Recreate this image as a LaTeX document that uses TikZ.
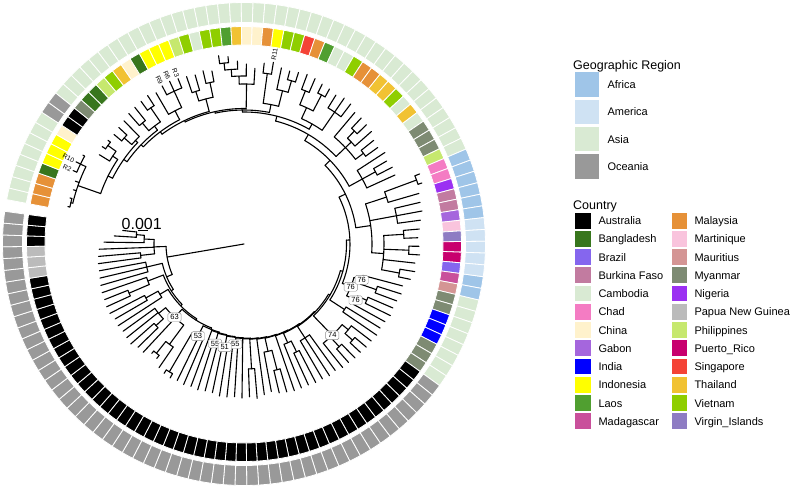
\documentclass[tikz,border=0pt]{standalone}
\usepackage{fontspec}
\setmainfont{Liberation Sans}
\definecolor{cAU}{HTML}{000000}
\definecolor{cBD}{HTML}{38761D}
\definecolor{cBR}{HTML}{8566EE}
\definecolor{cBF}{HTML}{C27BA0}
\definecolor{cKH}{HTML}{D9EAD3}
\definecolor{cTD}{HTML}{F47CC3}
\definecolor{cCN}{HTML}{FFF2CC}
\definecolor{cGA}{HTML}{A566DD}
\definecolor{cIN}{HTML}{0000FF}
\definecolor{cID}{HTML}{FFFF00}
\definecolor{cLA}{HTML}{509F30}
\definecolor{cMG}{HTML}{C9509B}
\definecolor{cMY}{HTML}{E69138}
\definecolor{cMQ}{HTML}{F9C4DD}
\definecolor{cMU}{HTML}{D49594}
\definecolor{cMM}{HTML}{7E8B73}
\definecolor{cNG}{HTML}{9B30F2}
\definecolor{cPG}{HTML}{BBBBBB}
\definecolor{cPH}{HTML}{C6E86E}
\definecolor{cPR}{HTML}{C8006E}
\definecolor{cSG}{HTML}{F44336}
\definecolor{cTH}{HTML}{F1C232}
\definecolor{cVN}{HTML}{8FCE00}
\definecolor{cVI}{HTML}{8E7CC3}
\definecolor{rAF}{HTML}{9FC5E8}
\definecolor{rAM}{HTML}{CFE2F3}
\definecolor{rAS}{HTML}{D9EAD3}
\definecolor{rOC}{HTML}{999999}
\tikzset{
  tr/.style={line width=1.1pt, line cap=round, line join=round},
  bs/.style={draw=black!45, line width=0.4pt, fill=white, rounded corners=1.5pt, inner xsep=2.4pt, inner ysep=1.8pt, font=\fontsize{7.5}{8.5}\selectfont},
  tl/.style={font=\fontsize{6.6}{7.5}\selectfont, inner sep=0pt},
  lt/.style={font=\fontsize{12.5}{14}\selectfont, anchor=base west, inner sep=0pt},
  lx/.style={font=\fontsize{11}{13}\selectfont, anchor=base west, inner sep=0pt}
}
\newcommand\TRad[3]{\draw[tr] ({168-(#1-1)*2.8125}:#2pt) -- ({168-(#1-1)*2.8125}:#3pt);}
\newcommand\TArc[3]{\draw[tr] ({168-(#2-1)*2.8125}:#1pt) arc[start angle={168-(#2-1)*2.8125}, end angle={168-(#3-1)*2.8125}, radius=#1pt];}
\newcommand\seg[4]{\pgfmathsetmacro\sa{168-(#1-1)*2.8125-1.40625}\pgfmathsetmacro\sb{168-(#1-1)*2.8125+1.40625}%
  \filldraw[fill=#2, draw=white, line width=0.8pt] (\sa:#3pt) arc[start angle=\sa, end angle=\sb, radius=#3pt] -- (\sb:#4pt) arc[start angle=\sb, end angle=\sa, radius=#4pt] -- cycle;}
\begin{document}
\begin{tikzpicture}[x=1pt,y=1pt]
\useasboundingbox (-244,-244) rectangle (548,244);
% ---------- country ring ----------
\foreach \cc [count=\k] in {MY,MY,MY,BD,ID,ID,ID,CN,AU,AU,MM,BD,BD,PH,VN,TH,CN,BD,ID,ID,ID,PH,VN,KH,VN,VN,LA,TH,CN,CN,MY,ID,VN,VN,SG,MY,LA,KH,KH,VN,MY,MY,TH,TH,VN,KH,TH,KH,MM,MM,MM,PH,TD,TD,NG,BF,BF,GA,MQ,VI,PR,PR,BR,MG,MU,MM,MM,IN,IN,IN,MM,MM,MM}
  {\seg{\k}{c\cc}{199}{217.5}}
\foreach \k in {74,...,121} {\seg{\k}{cAU}{199}{217.5}}
\foreach \k in {125,126,127} {\seg{\k}{cAU}{199}{217.5}}
\foreach \k in {122,123,124} {\seg{\k}{cPG}{199}{217.5}}
% ---------- region ring ----------
\foreach \k in {1,...,8} {\seg{\k}{rAS}{221.5}{241.5}}
\foreach \k in {11,...,52} {\seg{\k}{rAS}{221.5}{241.5}}
\foreach \k in {66,...,73} {\seg{\k}{rAS}{221.5}{241.5}}
\foreach \k in {9,10} {\seg{\k}{rOC}{221.5}{241.5}}
\foreach \k in {74,...,127} {\seg{\k}{rOC}{221.5}{241.5}}
\foreach \k in {53,...,58} {\seg{\k}{rAF}{221.5}{241.5}}
\foreach \k in {64,65} {\seg{\k}{rAF}{221.5}{241.5}}
\foreach \k in {59,...,63} {\seg{\k}{rAM}{221.5}{241.5}}
% ---------- tree ----------
\TRad{121.3}{0}{78}
\TArc{78}{116.55}{124.08}
% sA
\TRad{124.08}{78}{90} \TArc{90}{122.5}{125.75}
\TRad{122.5}{90}{104} \TArc{104}{122}{123} \TRad{122}{104}{147} \TRad{123}{104}{146}
\TRad{124}{90}{145}
\TRad{125.75}{90}{100} \TArc{100}{125}{126.5} \TRad{125}{100}{140}
\TRad{126.5}{100}{108} \TArc{108}{126}{127} \TRad{126}{108}{130} \TRad{127}{108}{122}
% L1
\TRad{116.55}{78}{84} \TArc{84}{113.1}{120}
\TRad{120}{84}{100} \TArc{100}{119}{121} \TRad{119}{100}{149} \TRad{120}{100}{148} \TRad{121}{100}{147}
% L2
\TRad{113.1}{84}{86.5} \TArc{86.5}{108.98}{117.25}
\TRad{117.25}{86.5}{103} \TArc{103}{116.5}{118} \TRad{118}{103}{150} \TRad{116.5}{103}{125} \TArc{125}{116}{117} \TRad{116}{125}{151} \TRad{117}{125}{150}
% L3
\TRad{108.98}{86.5}{88.5} \TArc{88.5}{104.2}{113.75}
\TRad{113.75}{88.5}{98} \TArc{98}{113}{114.5} \TRad{113}{98}{150} \TRad{114.5}{98}{112} \TArc{112}{114}{115} \TRad{114}{112}{149} \TRad{115}{112}{151}
% L4 with clade 63
\TRad{104.2}{88.5}{90} \TArc{90}{100.24}{108.19}
\TRad{108.19}{90}{101} \TArc{101}{105.75}{110.83}
\TRad{110.83}{101}{110} \TArc{110}{109.5}{112} \TRad{112}{110}{149} \TRad{111}{110}{150} \TRad{109.5}{110}{120} \TArc{120}{109}{110} \TRad{109}{120}{148} \TRad{110}{120}{151}
\TRad{108}{101}{148}
\TRad{105.75}{101}{125} \TArc{125}{105}{106.5} \TRad{105}{125}{150} \TRad{106.5}{125}{140} \TArc{140}{106}{107} \TRad{106}{140}{144} \TRad{107}{140}{143}
% L5 with clade 53
\TRad{100.24}{90}{91.5} \TArc{91.5}{98.3}{102.17}
\TRad{102.17}{91.5}{103} \TArc{103}{101}{103.5} \TRad{102}{103}{152} \TRad{101}{103}{153} \TRad{103.5}{103}{148} \TArc{148}{103}{104} \TRad{103}{148}{153} \TRad{104}{148}{152}
% L6
\TRad{98.3}{91.5}{92.3} \TArc{92.3}{96.6}{100} \TRad{100}{92.3}{152}
% L7
\TRad{96.6}{92.3}{93} \TArc{93}{94.71}{98.5}
\TRad{98.5}{93}{103.6} \TArc{103.6}{98}{99} \TRad{98}{103.6}{152} \TRad{99}{103.6}{153}
% L8
\TRad{94.71}{93}{93.7} \TArc{93.7}{92.92}{96.5}
\TRad{96.5}{93.7}{105} \TArc{105}{96}{97} \TRad{96}{105}{154} \TRad{97}{105}{152}
% L9
\TRad{92.92}{93.7}{94.3} \TArc{94.3}{91.34}{94.5}
\TRad{94.5}{94.3}{100.5} \TArc{100.5}{94}{95} \TRad{94}{100.5}{153} \TRad{95}{100.5}{154}
% L10
\TRad{91.34}{94.3}{94.9} \TArc{94.9}{89.68}{93} \TRad{93}{94.9}{154}
% L11
\TRad{89.68}{94.9}{95.4} \TArc{95.4}{87.85}{91.5}
\TRad{91.5}{95.4}{125} \TArc{125}{91}{92} \TRad{91}{125}{155} \TRad{92}{125}{153}
% L12
\TRad{87.85}{95.4}{96} \TArc{96}{85.7}{90} \TRad{90}{96}{152}
% L13
\TRad{85.7}{96}{96.5} \TArc{96.5}{83.15}{88.25}
\TRad{88.25}{96.5}{110} \TArc{110}{87.5}{89} \TRad{89}{110}{150} \TRad{87.5}{110}{130} \TArc{130}{87}{88} \TRad{87}{130}{154} \TRad{88}{130}{153}
% L14
\TRad{83.15}{96.5}{97} \TArc{97}{80.29}{86} \TRad{86}{97}{155}
% L15
\TRad{80.29}{97}{97.6} \TArc{97.6}{76.33}{84.25}
\TRad{84.25}{97.6}{108} \TArc{108}{83.5}{85} \TRad{85}{108}{155} \TRad{83.5}{108}{120} \TArc{120}{83}{84} \TRad{83}{120}{156} \TRad{84}{120}{155}
% L16
\TRad{76.33}{97.6}{98.3} \TArc{98.3}{71.66}{81}
\TRad{81}{98.3}{112} \TArc{112}{80}{82} \TRad{80}{112}{156} \TRad{81}{112}{157} \TRad{82}{112}{156}
% L17 with clade 74
\TRad{71.66}{98.3}{100} \TArc{100}{66.23}{77.08}
\TRad{77.08}{100}{127} \TArc{127}{74.75}{79} \TRad{79}{127}{158}
\TRad{77.5}{127}{140} \TArc{140}{77}{78} \TRad{77}{140}{159} \TRad{78}{140}{158}
\TRad{74.75}{127}{135} \TArc{135}{74}{75.5} \TRad{74}{135}{160} \TRad{75.5}{135}{145} \TArc{145}{75}{76} \TRad{75}{145}{160} \TRad{76}{145}{159}
% L18
\TRad{66.23}{100}{102.5} \TArc{102.5}{59.96}{72.5}
\TRad{72.5}{102.5}{120} \TArc{120}{72}{73} \TRad{72}{120}{160} \TRad{73}{120}{161}
% L19 with 76 clades
\TRad{59.96}{102.5}{106} \TArc{106}{51.41}{68.5}
\TRad{68.5}{106}{115} \TArc{115}{66.75}{70.25}
\TRad{66.75}{115}{123} \TArc{123}{66}{67.5} \TRad{66}{123}{164} \TRad{67.5}{123}{140} \TArc{140}{67}{68} \TRad{67}{140}{165} \TRad{68}{140}{163}
\TRad{70.25}{115}{125} \TArc{125}{69.5}{71} \TRad{71}{125}{161} \TRad{69.5}{125}{135} \TArc{135}{69}{70} \TRad{69}{135}{162} \TRad{70}{135}{163}
% L20 Africa / America
\TRad{51.41}{106}{113} \TArc{113}{45.03}{57.79}
\TRad{57.79}{113}{128} \TArc{128}{54.25}{62.125}
\TRad{54.25}{128}{150} \TArc{150}{53.5}{55} \TRad{55}{150}{182} \TRad{53.5}{150}{184} \TArc{184}{53}{54} \TRad{53}{184}{189} \TRad{54}{184}{188}
\TRad{57}{128}{155} \TArc{155}{56}{58} \TRad{56}{155}{181} \TRad{57}{155}{181} \TRad{58}{155}{178}
\TRad{62.125}{128}{140} \TArc{140}{59.5}{64.5}
\TRad{59.5}{140}{160} \TArc{160}{59}{60} \TRad{59}{160}{176} \TRad{60}{160}{174}
\TRad{61.5}{140}{165} \TArc{165}{61}{62} \TRad{61}{165}{175} \TRad{62}{165}{176}
\TRad{63}{140}{172}
\TRad{64.5}{140}{158} \TArc{158}{64}{65} \TRad{64}{158}{173} \TRad{65}{158}{170}
% L21
\TRad{45.03}{113}{120} \TArc{120}{39.56}{50.5}
\TRad{50.5}{120}{135} \TArc{135}{49}{52} \TRad{52}{135}{166} \TRad{49}{135}{168} \TRad{50.5}{135}{150} \TArc{150}{50}{51} \TRad{50}{150}{165} \TRad{51}{150}{167}
% L22
\TRad{39.56}{120}{127} \TArc{127}{33.86}{45.25}
\TRad{45.25}{127}{140} \TArc{140}{43}{47.5} \TRad{43}{140}{172} \TRad{47.5}{140}{150} \TArc{150}{47}{48} \TRad{47}{150}{166} \TRad{48}{150}{165}
\TRad{45.25}{140}{148} \TArc{148}{44.5}{46} \TRad{46}{148}{170} \TRad{44.5}{148}{158} \TArc{158}{44}{45} \TRad{44}{158}{172} \TRad{45}{158}{171}
% L23
\TRad{33.86}{127}{132} \TArc{132}{28.48}{39.25}
\TRad{39.25}{132}{138} \TArc{138}{37.5}{41}
\TRad{41}{138}{160} \TArc{160}{40}{42} \TRad{40}{160}{175} \TRad{41}{160}{177} \TRad{42}{160}{176}
\TRad{37.5}{138}{150} \TArc{150}{36.5}{38.5} \TRad{36.5}{150}{165} \TArc{165}{36}{37} \TRad{36}{165}{181} \TRad{37}{165}{180}
\TRad{38.5}{150}{168} \TArc{168}{38}{39} \TRad{38}{168}{178} \TRad{39}{168}{177}
% L24 (R11)
\TRad{28.48}{132}{134} \TArc{134}{24.33}{32.625}
\TRad{32.625}{134}{142} \TArc{142}{31.5}{33.75}
\TRad{31.5}{142}{172} \TArc{172}{31}{32} \TRad{31}{172}{182} \TRad{32}{172}{184}
\TRad{33.75}{142}{158} \TArc{158}{33}{34.5} \TRad{33}{158}{180} \TRad{34.5}{158}{170} \TArc{170}{34}{35} \TRad{34}{170}{179} \TRad{35}{170}{180}
% L25 staircase
\TRad{24.33}{134}{135.5} \TArc{135.5}{19.59}{29.06}
\TRad{29.06}{135.5}{160} \TArc{160}{28.125}{30} \TRad{30}{160}{176}
\TRad{28.125}{160}{168} \TArc{168}{27.25}{29} \TRad{29}{168}{180}
\TRad{27.25}{168}{175} \TArc{175}{26.5}{28} \TRad{28}{175}{183}
\TRad{26.5}{175}{182} \TArc{182}{26}{27} \TRad{26}{182}{190} \TRad{27}{182}{188}
% L26
\TRad{19.59}{135.5}{137} \TArc{137}{15.68}{23.5}
\TRad{23.5}{137}{150} \TArc{150}{22.5}{24.5} \TRad{24.5}{150}{165} \TArc{165}{24}{25} \TRad{24}{165}{178} \TRad{25}{165}{176}
\TRad{22.5}{150}{160} \TArc{160}{22}{23} \TRad{22}{160}{177} \TRad{23}{160}{176}
% L27 (R9 R6 R3)
\TRad{15.68}{137}{140} \TArc{140}{12.36}{19}
\TRad{19}{140}{150} \TArc{150}{18}{20} \TRad{18}{150}{175} \TRad{20}{150}{168} \TArc{168}{19}{21} \TRad{19}{168}{178} \TRad{20}{168}{179} \TRad{21}{168}{178}
% L28
\TRad{12.36}{140}{143} \TArc{143}{9.22}{15.5}
\TRad{15.5}{143}{148} \TArc{148}{14.5}{16.5} \TRad{16.5}{148}{165} \TArc{165}{16}{17} \TRad{16}{165}{176} \TRad{17}{165}{177}
\TRad{14.5}{148}{158} \TArc{158}{14}{15} \TRad{14}{158}{174} \TRad{15}{158}{175}
% L29
\TRad{9.22}{143}{147} \TArc{147}{6.19}{12.25}
\TRad{12.25}{147}{150} \TArc{150}{11.5}{13} \TRad{13}{150}{172} \TRad{11.5}{150}{160} \TArc{160}{11}{12} \TRad{11}{160}{170} \TRad{12}{160}{171}
% L30
\TRad{6.19}{147}{152} \TArc{152}{3.625}{8.75}
\TRad{8.75}{152}{158} \TArc{158}{8}{9.5} \TRad{8}{158}{170} \TRad{9.5}{158}{168} \TArc{168}{9}{10} \TRad{9}{168}{172} \TRad{10}{168}{171}
% L end
\TRad{3.625}{152}{176} \TArc{176}{1.5}{6}
\TRad{1.5}{176}{178} \TArc{178}{1}{2} \TRad{1}{178}{180} \TRad{2}{178}{180}
\TRad{3}{176}{179} \TRad{4}{176}{180}
\TRad{6}{176}{182} \TArc{182}{5}{7} \TRad{5}{182}{186} \TRad{6}{182}{187} \TRad{7}{182}{184}
% ---------- tip labels ----------
\node[tl, anchor=east, rotate=336.75] (tR2) at (156.75:188pt) {R2};
\node[tl, anchor=east, rotate=333.9375] (tR10) at (153.9375:189pt) {R10};
\node[tl, anchor=east, rotate=297.375] (tR9) at (117.375:180pt) {R9};
\node[tl, anchor=east, rotate=294.5625] (tR6) at (114.5625:181pt) {R6};
\node[tl, anchor=east, rotate=291.75] (tR3) at (111.75:180pt) {R3};
\node[tl, anchor=west, rotate=80.8125] (tR11) at (80.8125:186pt) {R11};
% ---------- bootstrap labels ----------
\node[bs] (b63) at ({168-(108.19-1)*2.8125}:101pt) {63};
\node[bs] (b53) at ({168-(102.17-1)*2.8125}:103pt) {53};
\node[bs] (b55a) at ({168-(98.5-1)*2.8125}:103.6pt) {55};
\node[bs] (b55b) at ({168-(94.5-1)*2.8125}:100.5pt) {55};
\node[bs] (b51) at ({168-(96.5-1)*2.8125}:105pt) {51};
\node[bs] (b74) at ({168-(77.08-1)*2.8125}:127pt) {74};
\node[bs] (b7x) at ({168-(68.5-1)*2.8125}:115pt) {76};
\node[bs] (b76a) at ({168-(66.75-1)*2.8125}:123pt) {76};
\node[bs] (b76b) at ({168-(70.25-1)*2.8125}:125pt) {76};
% ---------- scale ----------
\node[font=\fontsize{16}{18}\selectfont, anchor=base, inner sep=0pt] (scl) at (-102.3,14.8) {0.001};
\draw[line width=1.1pt] (-105.8,13.6) -- (-95.8,13.6);
% ---------- legend: region ----------
\node[lt] (gtitle) at (329,175) {Geographic Region};
\fill[rAF] (330.5,171.7) rectangle (355.3,147.2);
\fill[rAM] (330.5,144.4) rectangle (355.3,119.9);
\fill[rAS] (330.5,117.1) rectangle (355.3,92.6);
\fill[rOC] (330.5,89.8) rectangle (355.3,65.3);
\node[lx] (gAF) at (363.3,155.5) {Africa};
\node[lx] (gAM) at (363.3,128.1) {America};
\node[lx] (gAS) at (363.3,100.8) {Asia};
\node[lx] (gOC) at (363.3,73.5) {Oceania};
% ---------- legend: country ----------
\node[lt] (ctitle) at (329,34.7) {Country};
\foreach \cc/\lab [count=\i from 0] in {AU/Australia,BD/Bangladesh,BR/Brazil,BF/Burkina Faso,KH/Cambodia,TD/Chad,CN/China,GA/Gabon,IN/India,ID/Indonesia,LA/Laos,MG/Madagascar}
 {\fill[c\cc] (330.5,{31.3-18.24*\i}) rectangle (346.7,{15.5-18.24*\i});
  \node[lx] (k\cc) at (354.3,{19.4-18.24*\i}) {\lab};}
\foreach \cc/\lab [count=\i from 0] in {MY/Malaysia,MQ/Martinique,MU/Mauritius,MM/Myanmar,NG/Nigeria,PG/Papua New Guinea,PH/Philippines,PR/Puerto\_Rico,SG/Singapore,TH/Thailand,VN/Vietnam,VI/Virgin\_Islands}
 {\fill[c\cc] (427.5,{31.3-18.24*\i}) rectangle (443.2,{15.5-18.24*\i});
  \node[lx] (k\cc) at (450.3,{19.4-18.24*\i}) {\lab};}
\end{tikzpicture}
\end{document}
